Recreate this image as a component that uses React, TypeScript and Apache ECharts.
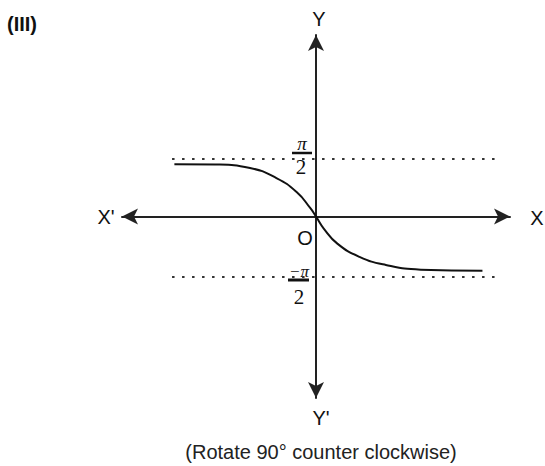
import React, { useEffect, useRef } from "react";
import * as echarts from "echarts";

// Curve points (x, y in chart units)
const curveX = [-3.65, -2.6, -1.7, -1.02, -0.5, -0.15, 0, 0.2, 0.55, 1.12, 1.8, 2.7, 4.29];
const curveY = [1.35, 1.34, 1.25, 0.99, 0.63, 0.22, 0, -0.31, -0.7, -1.04, -1.25, -1.37, -1.4];

// Asymptotes (π/2 and −π/2 as drawn)
const asymptoteX = [-3.71, 4.74];
const upperAsymptote = 1.48;
const lowerAsymptote = -1.56;

const xRange = [-5, 5];
const yRange = [-4.68, 4.68];

export default function App() {
  const ref = useRef<HTMLDivElement>(null);
  useEffect(() => {
    if (!ref.current) return;
    const chart = echarts.init(ref.current, null, { renderer: "svg" });
    const axisColor = "#222";
    const sans = "Liberation Sans";
    const serif = "Liberation Serif";
    const label = (text: string, x: number, y: number, size = 20) => ({
      type: "text",
      x,
      y,
      style: { text, fontSize: size, fontFamily: sans, fill: "#111", align: "center", verticalAlign: "middle" },
    });
    chart.setOption({
      animation: false,
      backgroundColor: "#ffffff",
      grid: { left: 122, right: 35, top: 35, bottom: 68 },
      xAxis: {
        type: "value",
        min: xRange[0],
        max: xRange[1],
        axisLine: {
          onZero: true,
          symbol: ["arrow", "arrow"],
          symbolSize: [12, 16],
          lineStyle: { color: axisColor, width: 2 },
        },
        axisTick: { show: false },
        axisLabel: { show: false },
        splitLine: { show: false },
      },
      yAxis: {
        type: "value",
        min: yRange[0],
        max: yRange[1],
        axisLine: {
          onZero: true,
          symbol: ["arrow", "arrow"],
          symbolSize: [12, 16],
          lineStyle: { color: axisColor, width: 2 },
        },
        axisTick: { show: false },
        axisLabel: { show: false },
        splitLine: { show: false },
      },
      series: [
        {
          type: "line",
          data: asymptoteX.map((x) => [x, upperAsymptote]),
          showSymbol: false,
          lineStyle: { color: "#333", width: 2, type: [2.5, 7.5] },
        },
        {
          type: "line",
          data: asymptoteX.map((x) => [x, lowerAsymptote]),
          showSymbol: false,
          lineStyle: { color: "#333", width: 2, type: [2.5, 7.5] },
        },
        {
          type: "line",
          data: curveX.map((x, i) => [x, curveY[i]]),
          smooth: 0.5,
          showSymbol: false,
          lineStyle: { color: "#111", width: 2 },
        },
      ],
      graphic: [
        { type: "text", x: 7, y: 24, style: { text: "(III)", fontSize: 20, fontWeight: "bold", fontFamily: sans, fill: "#111", verticalAlign: "middle" } },
        label("Y", 319, 19),
        label("Y'", 321, 418),
        label("X'", 106, 217),
        label("X", 537, 218),
        label("O", 305, 238),
        { type: "text", x: 302, y: 143, style: { text: "π", fontSize: 19, fontStyle: "italic", fontFamily: serif, fill: "#111", align: "center", verticalAlign: "middle" } },
        { type: "line", shape: { x1: 292, y1: 153, x2: 312, y2: 153 }, style: { stroke: "#111", lineWidth: 2.5 } },
        { type: "text", x: 301, y: 167, style: { text: "2", fontSize: 21, fontFamily: serif, fill: "#111", align: "center", verticalAlign: "middle" } },
        { type: "text", x: 299, y: 271, style: { text: "−π", fontSize: 17, fontStyle: "italic", fontFamily: serif, fill: "#111", align: "center", verticalAlign: "middle" } },
        { type: "line", shape: { x1: 288, y1: 280, x2: 309, y2: 280 }, style: { stroke: "#111", lineWidth: 3 } },
        { type: "text", x: 299, y: 297, style: { text: "2", fontSize: 21, fontFamily: serif, fill: "#111", align: "center", verticalAlign: "middle" } },
        { type: "text", x: 321, y: 452, style: { text: "(Rotate 90° counter clockwise)", fontSize: 20, fontFamily: sans, fill: "#222", align: "center", verticalAlign: "middle" } },
      ],
    });
    return () => chart.dispose();
  }, []);
  return <div ref={ref} style={{ position: "fixed", left: 0, top: 0, width: 545, height: 466 }} />;
}
